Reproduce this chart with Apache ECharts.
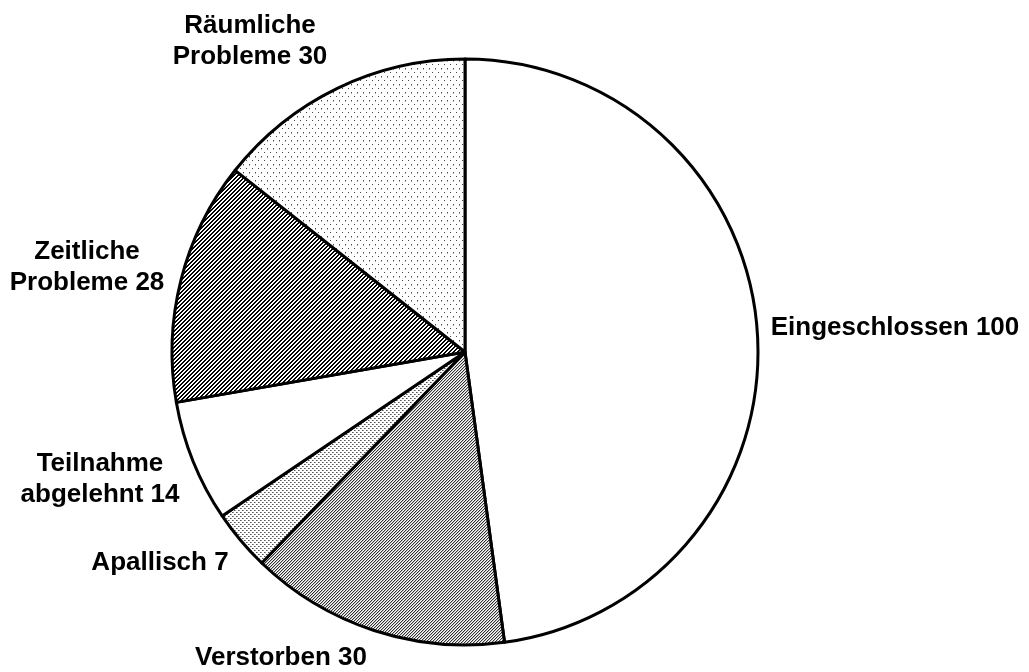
<!DOCTYPE html>
<html>
<head>
<meta charset="utf-8">
<script src="https://cdn.jsdelivr.net/npm/echarts@6/dist/echarts.min.js"></script>
<style>
  html, body { margin: 0; padding: 0; background: #fff; }
  #main { width: 1029px; height: 672px; }
</style>
</head>
<body>
<div id="main"></div>
<script>
// Daten (Reihenfolge im Uhrzeigersinn ab 12 Uhr)
var categories = ['Eingeschlossen', 'Verstorben', 'Apallisch', 'Teilnahme\nabgelehnt', 'Zeitliche\nProbleme', 'Räumliche\nProbleme'];
var values = [100, 30, 7, 14, 28, 30];

// Lage der Beschriftungen (Mitte des Textblocks)
var labelPos = [[895, 328], [281, 658], [160, 563], [100, 479], [87, 267], [250, 41]];

var fontFamily = "'Liberation Sans', Arial, sans-serif";

// kleine Kacheln als Füllmuster
function makePattern(w, h, draw) {
    var c = document.createElement('canvas');
    c.width = w;
    c.height = h;
    var ctx = c.getContext('2d');
    ctx.fillStyle = '#fff';
    ctx.fillRect(0, 0, w, h);
    draw(ctx);
    return { image: c, repeat: 'repeat' };
}

function px(ctx, color, pts) {
    ctx.fillStyle = color;
    pts.forEach(function (p) { ctx.fillRect(p[0], p[1], 1, 1); });
}

// feine Diagonalen, grau wirkend (Verstorben)
var fineDiag = makePattern(3, 3, function (ctx) {
    px(ctx, '#333', [[2, 0], [1, 1], [0, 2]]);
    px(ctx, '#bbb', [[0, 0], [2, 1], [1, 2]]);
});
// lockere Punkte (Apallisch)
var smallDots = makePattern(4, 4, function (ctx) {
    px(ctx, '#555', [[0, 0], [2, 2]]);
    px(ctx, '#999', [[1, 0], [3, 2]]);
});
// breite Diagonalen (Zeitliche Probleme)
var wideDiag = makePattern(4, 4, function (ctx) {
    var pts = [];
    for (var x = 0; x < 4; x++) {
        for (var y = 0; y < 4; y++) {
            if ((x + y) % 4 < 2) pts.push([x, y]);
        }
    }
    px(ctx, '#000', pts);
});
// sehr lockere Punkte (Räumliche Probleme)
var sparseDots = makePattern(6, 8, function (ctx) {
    px(ctx, '#444', [[0, 0], [3, 4]]);
    px(ctx, '#aaa', [[3, 5]]);
});

var fills = ['#fff', fineDiag, smallDots, '#fff', wideDiag, sparseDots];

var myChart = echarts.init(document.getElementById('main'), null, { renderer: 'canvas' });

var pieData = [];
categories.forEach(function (name, i) {
    pieData.push({
        name: name,
        value: values[i],
        itemStyle: { color: fills[i] }
    });
});

var option = {
    backgroundColor: '#fff',
    animation: false,
    series: [{
        type: 'pie',
        center: [465, 352],
        radius: 293,
        startAngle: 90,
        clockwise: true,
        avoidLabelOverlap: false,
        itemStyle: {
            borderColor: '#000',
            borderWidth: 3
        },
        label: {
            show: true,
            position: 'outside',
            formatter: function (p) {
                // Wert hinter den Namen (letzte Zeile)
                return p.name + ' ' + p.value;
            },
            color: '#000',
            fontFamily: fontFamily,
            fontWeight: 'bold',
            fontSize: 26,
            lineHeight: 31
        },
        labelLine: { show: false },
        labelLayout: function (params) {
            var p = labelPos[params.dataIndex];
            return {
                x: p[0],
                y: p[1],
                align: 'center',
                verticalAlign: 'middle'
            };
        },
        emphasis: { disabled: true },
        data: pieData
    }]
};
myChart.setOption(option);
</script>
</body>
</html>
